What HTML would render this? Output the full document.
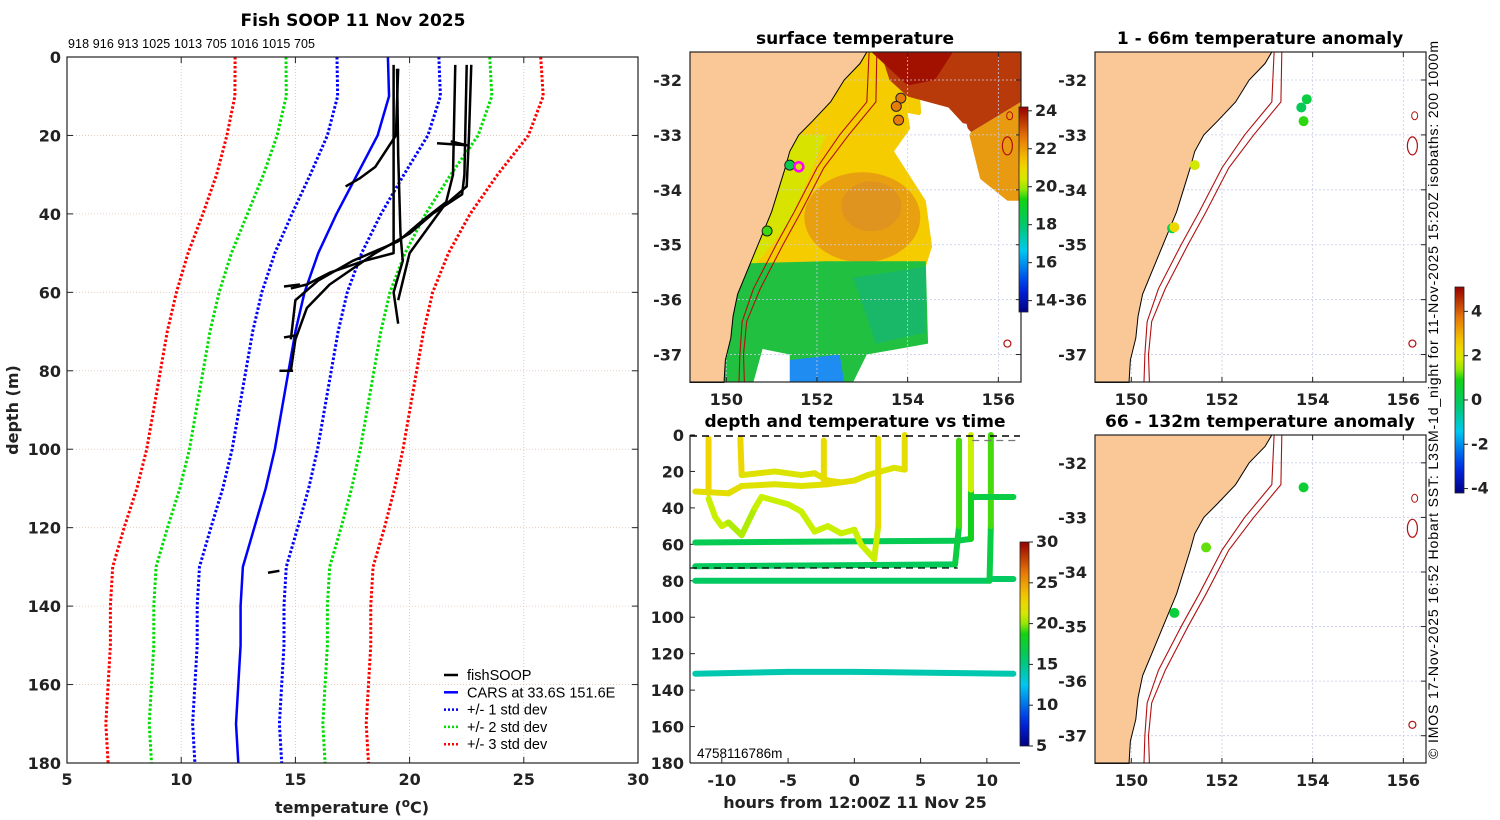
<!DOCTYPE html>
<html><head><meta charset="utf-8"><style>
html,body{margin:0;padding:0;background:#fff;}
svg{display:block;font-family:"Liberation Sans","DejaVu Sans",sans-serif;}
.tk{font-family:"DejaVu Sans","Liberation Sans",sans-serif;font-weight:bold;font-size:16px;fill:#222;}
.tt{font-family:"DejaVu Sans","Liberation Sans",sans-serif;font-weight:bold;font-size:17px;fill:#000;}
</style></head><body>
<svg id="fig" width="1500" height="820" viewBox="0 0 1500 820" xmlns="http://www.w3.org/2000/svg">
<text class="tt" x="353" y="26" text-anchor="middle">Fish SOOP 11 Nov 2025</text>
<text x="68" y="48" font-size="12.5" textLength="247">918 916 913 1025 1013 705 1016 1015 705</text>
<text class="tk" x="18" y="410" text-anchor="middle" transform="rotate(-90 18 410)">depth (m)</text>
<text class="tk" x="352" y="813" text-anchor="middle" font-size="17">temperature (<tspan dy="-6" font-size="12">o</tspan><tspan dy="6">C)</tspan></text>
<text class="tt" x="855" y="44" text-anchor="middle">surface temperature</text>
<text class="tt" x="855" y="427" text-anchor="middle">depth and temperature vs time</text>
<text class="tk" x="855" y="808" text-anchor="middle" font-size="17">hours from 12:00Z 11 Nov 25</text>
<text class="tt" x="1260" y="44" text-anchor="middle">1 - 66m temperature anomaly</text>
<text class="tt" x="1260" y="427" text-anchor="middle">66 - 132m temperature anomaly</text>
<text x="1438" y="400" font-size="14" text-anchor="middle" textLength="718" transform="rotate(-90 1438 400)">© IMOS 17-Nov-2025 16:52 Hobart SST: L3SM-1d_night for 11-Nov-2025 15:20Z isobaths: 200  1000m</text>
<g id="gP"></g><g id="gM1"></g><g id="gT"></g><g id="gM2"></g><g id="gM3"></g>
</svg>
<script>
// ---------- data ----------
const depths=[0,10,20,30,40,50,60,70,80,90,100,110,120,130,140,150,160,170,180];
const carsMean=[19.05,19.1,18.6,17.7,16.8,16.0,15.4,15.0,14.7,14.4,14.1,13.7,13.2,12.7,12.6,12.6,12.5,12.4,12.5];
const carsStd=[2.23,2.25,2.2,2.05,1.95,1.9,1.87,1.87,1.87,1.87,1.87,1.88,1.9,1.9,1.9,1.9,1.9,1.9,1.9];
const tempTicks=[5,10,15,20,25,30];
const depthTicks=[0,20,40,60,80,100,120,140,160,180];
const fishProfiles=[
 [[19.3,2],[19.3,30],[19.3,50],[18,52],[16.5,55],[15.5,58],[14.8,59]],
 [[19.45,3],[19.5,25],[19.6,45],[19.7,52],[19.3,60],[19.5,68]],
 [[22.0,2],[21.9,30],[21.6,37],[20.5,42],[19.5,47],[17.5,52],[16.0,57],[15.0,62],[14.8,72]],
 [[22.5,2],[22.4,30],[22.3,35],[21.0,40],[20,45],[18.5,50],[16.5,58],[15.5,64],[15.0,72],[14.8,80]],
 [[22.7,2],[22.6,20],[22.5,33],[21.5,38],[20.0,50],[19.5,62]],
 [[19.5,3],[19.4,20],[18.5,28],[17.8,31],[17.2,33]],
 [[21.2,22],[22.5,22.5],[21.8,21.5]],
 [[13.8,131.5],[14.3,131]],
 [[14.5,58.5],[15.2,58]],[[14.5,71.5],[15.0,71]],[[14.3,80],[14.9,80]]
];
// time panel tracks: [hour, depth, temp]
const tracks=[
 [[-12,59,16.5],[7.8,58,16.5],[8.8,57,17],[8.8,30,20],[8.8,0,21]],
 [[-12,72,16.2],[7.6,71,16.2],[7.9,50,18],[7.9,3,20.5]],
 [[-12,80,16],[10.2,80,16],[10.3,50,18],[10.3,0,20.5]],
 [[10.5,79,16],[12,79,16]],
 [[9,34,17],[12,34,17]],
 [[-12,131,14],[-5,130,14],[0,130,14],[12,131,14]],
 [[-11,2,23.5],[-11,32,22]],
 [[-12,31,22],[-9.5,32,22],[-8.5,28,22],[-6,27,21.5],[-4,28,21.5],[-2,27,22],[0,25,22],[1,22,21.5],[2,20,21.5],[3,18,21.5],[3.8,19,21.5],[3.8,0,22.5]],
 [[-8.6,2,23],[-8.5,22,22],[-6,20,21.5],[-4,22,21.5],[-3,21,21.5],[-2,25,22],[-1,26,22]],
 [[-11,35,20.5],[-10.5,45,20.5],[-10,50,20.5],[-9.5,48,20.5],[-8.5,55,20],[-7.5,40,20.5],[-7,34,20.5],[-5,38,20.5],[-4,42,20.5],[-3,53,20.5],[-2,50,20.5],[-1,54,20.5],[0,52,20.5],[0.5,60,20.5],[1.5,68,20.5],[1.8,50,21],[1.8,2,23.5]],
 [[-2.3,3,22.5],[-2.3,27,22]]
];
const hourTicks=[-10,-5,0,5,10];
const sstTicks=[14,16,18,20,22,24];
const anomTicks=[-4,-2,0,2,4];
const tcTicks=[5,10,15,20,25,30];
const lonTicks=[150,152,154,156];
const latTicks=[-32,-33,-34,-35,-36,-37];
const surfPoints=[[153.85,-32.33,22.5],[153.75,-32.48,22.5],[153.8,-32.73,22.5],[151.4,-33.55,18.5],[150.9,-34.75,19.5]];
const anomTop=[[153.87,-32.35,0.3],[153.75,-32.5,0],[153.8,-32.75,1.0],[151.4,-33.55,1.8],[150.9,-34.7,0.2],[150.95,-34.68,2.3]];
const anomBot=[[153.8,-32.45,0.5],[151.65,-33.55,1.2],[150.95,-34.75,0.4]];
const coast=[[153.1,-31.49],[152.95,-31.7],[152.6,-32],[152.3,-32.4],[151.9,-32.75],[151.6,-33],[151.4,-33.3],[151.3,-33.6],[151.15,-34],[151.0,-34.4],[150.85,-34.7],[150.7,-35.0],[150.5,-35.4],[150.25,-35.9],[150.15,-36.3],[150.1,-36.7],[149.98,-37.1],[149.95,-37.51]];
const iso200=[[153.15,-31.49],[153.1,-32.4],[152.5,-33.0],[152.0,-33.6],[151.5,-34.4],[151.1,-35.0],[150.6,-35.8],[150.35,-36.4],[150.3,-37.0],[150.28,-37.51]];
const iso1000=[[153.32,-31.49],[153.3,-32.4],[152.7,-33.0],[152.15,-33.6],[151.65,-34.4],[151.25,-35.0],[150.75,-35.8],[150.45,-36.4],[150.38,-37.0],[150.4,-37.51]];
// ---------- helpers ----------
const NS='http://www.w3.org/2000/svg';
function mk(tag,attrs,parent){const e=document.createElementNS(NS,tag);for(const k in attrs)e.setAttribute(k,attrs[k]);parent.appendChild(e);return e;}
function jet(t){t=Math.max(0,Math.min(1,t));
 const s=[[0,[0,0,130]],[0.12,[0,40,230]],[0.3,[0,200,240]],[0.42,[0,200,110]],[0.55,[20,210,20]],[0.62,[200,240,0]],[0.72,[245,210,0]],[0.85,[230,120,10]],[1,[150,0,0]]];
 for(let i=1;i<s.length;i++){if(t<=s[i][0]){const a=s[i-1],b=s[i],f=(t-a[0])/(b[0]-a[0]);return 'rgb('+a[1].map((v,j)=>Math.round(v+(b[1][j]-v)*f)).join(',')+')';}}return 'rgb(150,0,0)';}
// ---------- profile panel ----------
(function(){
const g=document.getElementById('gP');
const X0=67,X1=638,Y0=57,Y1=763;
const sx=t=>X0+(t-5)/25*(X1-X0), sy=d=>Y0+d/180*(Y1-Y0);
tempTicks.forEach(t=>{const l=mk('line',{x1:sx(t),x2:sx(t),y1:Y0,y2:Y1,stroke:'#b8c4ec','stroke-width':0.8,'stroke-dasharray':'1 2'},g);
 const tx=mk('text',{x:sx(t),y:Y1+22,'text-anchor':'middle',class:'tk'},g);tx.textContent=t;
 mk('line',{x1:sx(t),x2:sx(t),y1:Y1,y2:Y1-6,stroke:'#222'},g);mk('line',{x1:sx(t),x2:sx(t),y1:Y0,y2:Y0+6,stroke:'#222'},g);});
depthTicks.forEach(d=>{const l=mk('line',{x1:X0,x2:X1,y1:sy(d),y2:sy(d),stroke:'#e8c0b0','stroke-width':0.8,'stroke-dasharray':'1 2'},g);
 const tx=mk('text',{x:X0-6,y:sy(d)+6,'text-anchor':'end',class:'tk'},g);tx.textContent=d;
 mk('line',{x1:X0,x2:X0+6,y1:sy(d),y2:sy(d),stroke:'#222'},g);mk('line',{x1:X1,x2:X1-6,y1:sy(d),y2:sy(d),stroke:'#222'},g);});
const cols={1:'#0000ff',2:'#00dd00',3:'#ff0000'};
[1,2,3].forEach(k=>{[-1,1].forEach(sg=>{const pts=depths.map((d,i)=>sx(carsMean[i]+sg*k*carsStd[i])+','+sy(d)).join(' ');
 const p=mk('polyline',{points:pts,fill:'none',stroke:cols[k],'stroke-width':3,'stroke-dasharray':'2.5 2'},g);});});
const cp=mk('polyline',{points:depths.map((d,i)=>sx(carsMean[i])+','+sy(d)).join(' '),fill:'none',stroke:'#0000ff','stroke-width':2.5},g);
fishProfiles.forEach(pr=>{const p=mk('polyline',{points:pr.map(q=>sx(q[0])+','+sy(q[1])).join(' '),fill:'none',stroke:'#000','stroke-width':2.5,'stroke-linejoin':'round'},g);});
const fr=mk('rect',{x:X0,y:Y0,width:X1-X0,height:Y1-Y0,fill:'none',stroke:'#222','stroke-width':1.2},g);
const leg=[['fishSOOP','#000',''],['CARS at 33.6S 151.6E','#0000ff',''],['+/- 1 std dev','#0000ff','2 2'],['+/- 2 std dev','#00dd00','2 2'],['+/- 3 std dev','#ff0000','2 2']];
const lg=mk('g',{},g);
leg.forEach((e,i)=>{const y=675+i*17.3;mk('line',{x1:444,x2:458,y1:y,y2:y,stroke:e[1],'stroke-width':2.5,'stroke-dasharray':e[2]},lg);
 const t=mk('text',{x:467,y:y+5,'font-size':14.5},lg);t.textContent=e[0];});
})();
// ---------- map helpers ----------
function mapAxes(g,X0,X1,Y0,Y1,name){
 const sx=l=>X0+(l-149.2)/(156.5-149.2)*(X1-X0), sy=a=>Y0+(-31.49-a)/(37.5-31.49)*(Y1-Y0);
 return {sx,sy,frame(){
  lonTicks.forEach(l=>{mk('line',{x1:sx(l),x2:sx(l),y1:Y0,y2:Y1,stroke:'#c8cce8','stroke-width':0.8,'stroke-dasharray':'2 2'},g);
   const t=mk('text',{x:sx(l),y:Y1+23,'text-anchor':'middle',class:'tk'},g);t.textContent=l;
   mk('line',{x1:sx(l),x2:sx(l),y1:Y1,y2:Y1-5,stroke:'#222'},g);mk('line',{x1:sx(l),x2:sx(l),y1:Y0,y2:Y0+5,stroke:'#222'},g);});
  latTicks.forEach(a=>{mk('line',{x1:X0,x2:X1,y1:sy(a),y2:sy(a),stroke:'#c8cce8','stroke-width':0.8,'stroke-dasharray':'2 2'},g);
   const t=mk('text',{x:X0-8,y:sy(a)+6,'text-anchor':'end',class:'tk'},g);t.textContent=a;
   mk('line',{x1:X0,x2:X0+5,y1:sy(a),y2:sy(a),stroke:'#222'},g);mk('line',{x1:X1,x2:X1-5,y1:sy(a),y2:sy(a),stroke:'#222'},g);});
  const land=[[149.2,-31.49]].concat(coast).concat([[149.2,-37.51]]);
  const lp=mk('polygon',{points:land.map(p=>sx(p[0])+','+sy(p[1])).join(' '),fill:'#fac896',stroke:'#000','stroke-width':1},g);
  [iso200,iso1000].forEach(iso=>{const p=mk('polyline',{points:iso.map(p=>sx(p[0])+','+sy(p[1])).join(' '),fill:'none',stroke:'#b01010','stroke-width':1.1},g);});
  mk('ellipse',{cx:sx(156.2),cy:sy(-33.2),rx:5,ry:9,fill:'none',stroke:'#b01010','stroke-width':1.2},g);
  mk('ellipse',{cx:sx(156.25),cy:sy(-32.65),rx:3,ry:4,fill:'none',stroke:'#b01010','stroke-width':1},g);
  mk('circle',{cx:sx(156.2),cy:sy(-36.8),r:3.5,fill:'none',stroke:'#b01010','stroke-width':1.2},g);
  const f=mk('rect',{x:X0,y:Y0,width:X1-X0,height:Y1-Y0,fill:'none',stroke:'#222','stroke-width':1.2},g);
 }};
}
function colorbar(g,x,y0,y1,vmin,vmax,ticks,name){
 const id='cb'+name;const defs=mk('defs',{},g);const lg=mk('linearGradient',{id:id,x1:0,y1:1,x2:0,y2:0},defs);
 for(let i=0;i<=20;i++)mk('stop',{offset:i/20,'stop-color':jet(i/20)},lg);
 const r=mk('rect',{x:x,y:y0,width:9,height:y1-y0,fill:'url(#'+id+')',stroke:'#222','stroke-width':0.8},g);
 ticks.forEach(v=>{const y=y1-(v-vmin)/(vmax-vmin)*(y1-y0);mk('line',{x1:x+9,x2:x+13,y1:y,y2:y,stroke:'#222'},g);
  const t=mk('text',{x:x+16,y:y+5,class:'tk','font-size':13},g);t.textContent=v;});
}
// ---------- SST map ----------
(function(){
const g=document.getElementById('gM1');const m=mapAxes(g,690,1021,52,382,'sst-map');const sx=m.sx,sy=m.sy;
const poly=(pts,fill,nm)=>{const p=mk('polygon',{points:pts.map(q=>sx(q[0])+','+sy(q[1])).join(' '),fill:fill},g);};
poly([[150,-31.49],[154.2,-31.49],[154.3,-32.6],[153.7,-33.3],[154.4,-34.2],[154.6,-35.4],[150,-35.4]],'#f4cc00','sst-warm-yellow');
poly([[151.2,-33.0],[152.2,-33.0],[151.4,-34.6],[150.6,-35.4],[150.2,-35.4]],'#d8e400','sst-coastal-lime');
poly([[153.4,-31.49],[156.5,-31.49],[156.5,-32.4],[155.4,-32.95],[154.9,-32.5],[154.0,-32.3],[153.6,-32.0]],'#b83a0a','sst-dark-red');
poly([[153.2,-31.49],[155.0,-31.49],[154.6,-32.0],[154.0,-32.1]],'#a21000','sst-darkest');
poly([[155.4,-32.95],[156.5,-32.4],[156.5,-34.2],[156.0,-34.2],[155.5,-33.7],[155.1,-33.3]],'#e89a10','sst-orange-east');
poly([[154.0,-32.6],[155.3,-32.8],[155.6,-33.8],[156.2,-34.2],[156.5,-34.3],[156.5,-37.5],[154.5,-37.5],[154.4,-35.4],[154.7,-34.6],[154.2,-33.6]],'#ffffff','sst-cloud-gap');
mk('ellipse',{cx:sx(153.0),cy:sy(-34.5),rx:58,ry:45,fill:'#e8a010'},g);
mk('ellipse',{cx:sx(153.2),cy:sy(-34.3),rx:30,ry:25,fill:'#e09420'},g);
poly([[149.9,-35.35],[152.2,-35.3],[154.4,-35.3],[154.45,-36.8],[153.1,-37.0],[152.8,-37.5],[149.9,-37.5]],'#22c040','sst-cool-green');
poly([[152.8,-35.6],[154.4,-35.4],[154.4,-36.6],[153.3,-36.8]],'#18b868','sst-cool-teal');
poly([[151.4,-37.1],[152.5,-37.0],[152.6,-37.5],[151.3,-37.5]],'#1e8cf0','sst-cold-blue');
poly([[150.8,-36.9],[151.4,-37.0],[151.4,-37.5],[150.6,-37.5]],'#ffffff','sst-gap-south');
poly([[154.5,-36.7],[155.5,-36.9],[155.3,-37.5],[154.4,-37.5]],'#ffffff','sst-gap-se');
m.frame();
surfPoints.forEach(p=>{const c=mk('circle',{cx:sx(p[0]),cy:sy(p[1]),r:5,fill:jet((p[2]-13.4)/(24.2-13.4)),stroke:'#222','stroke-width':1},g);});
const ring=mk('circle',{cx:sx(151.6),cy:sy(-33.58),r:4.5,fill:'none',stroke:'#ff00ff','stroke-width':2.5},g);
colorbar(g,1019,107,312,13.4,24.2,sstTicks,'sst');
})();
// ---------- time panel ----------
(function(){
const g=document.getElementById('gT');const X0=690,X1=1020,Y0=435,Y1=763;
const sx=h=>X0+(h+12.4)/(24.9)*(X1-X0), sy=d=>Y0+d/180*(Y1-Y0);
hourTicks.forEach(h=>{const t=mk('text',{x:sx(h),y:Y1+23,'text-anchor':'middle',class:'tk'},g);t.textContent=h;
 mk('line',{x1:sx(h),x2:sx(h),y1:Y1,y2:Y1-5,stroke:'#222'},g);});
depthTicks.forEach(d=>{const t=mk('text',{x:X0-6,y:sy(d)+6,'text-anchor':'end',class:'tk'},g);t.textContent=d;
 mk('line',{x1:X0,x2:X0+5,y1:sy(d),y2:sy(d),stroke:'#222'},g);});
tracks.forEach(tr=>{for(let i=1;i<tr.length;i++){const a=tr[i-1],b=tr[i];
 const s=mk('line',{x1:sx(a[0]),y1:sy(a[1]),x2:sx(b[0]),y2:sy(b[1]),stroke:jet((((a[2]+b[2])/2)-5)/25),'stroke-width':6,'stroke-linecap':'round'},g);}});
const d1=mk('line',{x1:X0,x2:X1,y1:Y0+1,y2:Y0+1,stroke:'#000','stroke-width':1.5,'stroke-dasharray':'7 5'},g);
const d2=mk('line',{x1:X0,x2:sx(7.8),y1:sy(73),y2:sy(73),stroke:'#000','stroke-width':1.2,'stroke-dasharray':'7 5'},g);
const d3=mk('line',{x1:sx(8.9),x2:X1,y1:sy(3),y2:sy(3),stroke:'#777','stroke-width':1.2,'stroke-dasharray':'7 5'},g);
const tx=mk('text',{x:697,y:758,'font-size':13.5},g);tx.textContent='4758116786m';
mk('line',{x1:X0,x2:X0,y1:Y0,y2:Y1,stroke:'#222','stroke-width':1.2},g);mk('line',{x1:X0,x2:X1,y1:Y1,y2:Y1,stroke:'#222','stroke-width':1.2},g);
colorbar(g,1020,542,746,5,30,tcTicks,'time-temp');
})();
// ---------- anomaly maps ----------
function anomMap(gid,Y0,Y1,pts,name){
 const g=document.getElementById(gid);const m=mapAxes(g,1095,1426,Y0,Y1,name);m.frame();
 pts.forEach(p=>{const c=mk('circle',{cx:m.sx(p[0]),cy:m.sy(p[1]),r:5,fill:jet((p[2]+4.2)/9.3)},g);});
}
anomMap('gM2',52,382,anomTop,'anom-top');
anomMap('gM3',435,763,anomBot,'anom-bottom');
colorbar(document.getElementById('gM3'),1455,287,493,-4.2,5.1,anomTicks,'anomaly');
</script>
</body></html>
